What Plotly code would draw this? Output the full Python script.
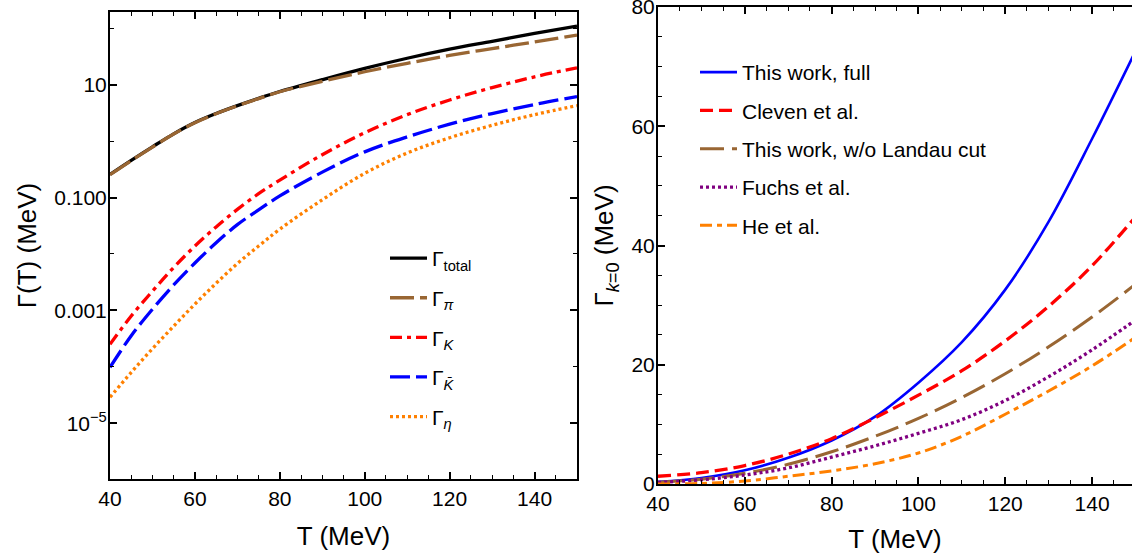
import plotly.graph_objects as go

# ---------------- data: left panel (log scale) ----------------
T_left = [40, 45, 50, 55, 60, 65, 70, 75, 80, 90, 100, 110, 120, 130, 140, 150]
gamma_total = [0.257, 0.457, 0.794, 1.35, 2.14, 3.09, 4.27, 5.75, 7.59, 12.3, 19.5, 29.5, 42.7, 58.9, 81.3, 110.0]
gamma_pi = [0.254, 0.452, 0.786, 1.34, 2.12, 3.06, 4.23, 5.69, 7.52, 11.5, 17.0, 24.0, 33.1, 43.7, 57.5, 75.9]
gamma_K = [2.51e-4, 7.94e-4, 2.19e-3, 5.75e-3, 0.0138, 0.0302, 0.0617, 0.117, 0.204, 0.575, 1.41, 2.95, 5.37, 8.91, 13.8, 20.0]
gamma_Kbar = [9.77e-5, 3.55e-4, 1.05e-3, 2.82e-3, 6.92e-3, 0.0158, 0.0331, 0.0603, 0.107, 0.282, 0.646, 1.19, 2.00, 3.09, 4.47, 6.17]
gamma_eta = [2.88e-5, 7.94e-5, 2.09e-4, 5.25e-4, 1.29e-3, 3.02e-3, 6.76e-3, 0.0138, 0.0275, 0.0912, 0.269, 0.617, 1.15, 1.91, 2.95, 4.27]

left_names = ["Γ<sub>total</sub>", "Γ<sub><i>π</i></sub>", "Γ<sub><i>K</i></sub>",
              "Γ<sub><i>K̄</i></sub>", "Γ<sub><i>η</i></sub>"]
left_tickvals = [1e-5, 1e-3, 0.1, 10]
left_ticktext = ["10<sup>−5</sup>", "0.001", "0.100", "10"]
left_minorvals = [1e-6, 1e-4, 0.01, 1, 100]

# ---------------- data: right panel (linear) ----------------
T_right = [40, 50, 60, 70, 80, 90, 100, 110, 120, 130, 140, 150]
full = [0.35, 1.0, 2.3, 4.4, 7.3, 11.3, 17.0, 23.8, 32.6, 44.0, 57.9, 72.6]
cleven = [1.3, 1.9, 3.1, 5.0, 7.6, 11.1, 14.9, 19.0, 24.0, 29.8, 36.6, 44.8]
no_landau = [0.3, 0.8, 1.8, 3.3, 5.4, 8.0, 11.0, 14.5, 18.5, 23.0, 28.0, 33.5]
fuchs = [0.25, 0.7, 1.5, 2.7, 4.5, 6.4, 8.5, 10.8, 14.0, 18.0, 22.5, 27.5]
he = [0.0, 0.1, 0.5, 1.3, 2.2, 3.4, 5.2, 8.0, 11.7, 15.6, 19.8, 24.6]

right_names = ["This work, full", "Cleven et al.", "This work, w/o Landau cut",
               "Fuchs et al.", "He et al."]
right_tickvals = [0, 20, 40, 60, 80]

FONT = "Liberation Sans, Arial, sans-serif"
BROWN = "#996633"
ORANGE = "#FF8000"
PURPLE = "#800080"

fig = go.Figure()

left_series = [gamma_total, gamma_pi, gamma_K, gamma_Kbar, gamma_eta]
left_styles = [
    dict(color="black", width=3.3, dash="solid"),
    dict(color=BROWN, width=3.3, dash="24px,6px"),
    dict(color="red", width=3.3, dash="12px,5px,4px,5px"),
    dict(color="blue", width=3.3, dash="20px,6px"),
    dict(color=ORANGE, width=3.3, dash="3px,3px"),
]
for name, ys, st in zip(left_names, left_series, left_styles):
    fig.add_trace(go.Scatter(x=T_left, y=ys, mode="lines", name=name, line=dict(shape="spline", **st),
                             xaxis="x", yaxis="y", legend="legend", legendgroup="L" + name))

right_series = [full, cleven, no_landau, fuchs, he]
right_styles = [
    dict(color="blue", width=2.6, dash="solid"),
    dict(color="red", width=3.3, dash="13px,6px"),
    dict(color=BROWN, width=3.0, dash="24px,8px"),
    dict(color=PURPLE, width=3.3, dash="3px,3px"),
    dict(color=ORANGE, width=3.0, dash="12px,5px,5px,5px"),
]
for name, ys, st in zip(right_names, right_series, right_styles):
    fig.add_trace(go.Scatter(x=T_right, y=ys, mode="lines", name=name, line=dict(shape="spline", **st),
                             xaxis="x2", yaxis="y2", legend="legend2", legendgroup="R" + name))

W, H = 1132, 554
tickfont = dict(family=FONT, size=21, color="black")
titlefont = dict(family=FONT, size=26, color="black")

common_x = dict(showgrid=False, zeroline=False, showline=True, linecolor="black", linewidth=2,
                ticks="inside", ticklen=7, tickwidth=1.5, tickcolor="black",
                tickfont=tickfont, automargin=False, ticklabeloverflow="allow",
                minor=dict(ticks="inside", ticklen=4, tickwidth=1.2, tickcolor="black", dtick=5))

fig.update_layout(
    width=W, height=H,
    margin=dict(l=0, r=0, t=0, b=0),
    paper_bgcolor="white", plot_bgcolor="white",
    showlegend=True,
    xaxis=dict(domain=[110 / W, 577 / W], range=[40, 150], dtick=20, tick0=40, mirror="allticks",
               anchor="y", title=dict(text="T (MeV)", font=titlefont, standoff=18), **common_x),
    yaxis=dict(domain=[(H - 479) / H, (H - 12) / H], type="log", range=[-5.99, 2.29],
               tickmode="array", tickvals=left_tickvals, ticktext=left_ticktext,
               showgrid=False, zeroline=False, showline=True, linecolor="black", linewidth=2,
               ticks="inside", ticklen=7, tickwidth=1.5, tickcolor="black", mirror="allticks",
               tickfont=tickfont, automargin=False, anchor="x", ticklabelstandoff=-3,
               ticklabeloverflow="allow",
               minor=dict(ticks="inside", ticklen=4, tickwidth=1.2, tickcolor="black",
                          tickmode="array", tickvals=left_minorvals),
               title=dict(text="Γ(T) (MeV)", font=titlefont, standoff=10)),
    xaxis2=dict(domain=[658 / W, 1.0], range=[40, 149.2], dtick=20, tick0=40, mirror="allticks",
                anchor="y2", title=dict(text="T (MeV)", font=titlefont, standoff=18), **common_x),
    yaxis2=dict(domain=[(H - 484) / H, (H - 7) / H], range=[0, 80.001],
                tickmode="array", tickvals=right_tickvals,
                showgrid=False, zeroline=False, showline=True, linecolor="black", linewidth=2,
                ticks="inside", ticklen=7, tickwidth=1.5, tickcolor="black", mirror=False,
                tickfont=tickfont, automargin=False, anchor="x2", ticklabelstandoff=-3,
                ticklabeloverflow="allow",
                minor=dict(ticks="inside", ticklen=4, tickwidth=1.2, tickcolor="black", dtick=5),
                title=dict(text="Γ<sub><i>k</i>=0</sub> (MeV)", font=titlefont, standoff=10)),
    legend=dict(x=385 / W, y=1 - 238 / H, xanchor="left", yanchor="top", bgcolor="rgba(0,0,0,0)",
                font=dict(family=FONT, size=21, color="black"), tracegroupgap=9.3, itemwidth=37),
    legend2=dict(x=695 / W, y=1 - 52 / H, xanchor="left", yanchor="top", bgcolor="rgba(0,0,0,0)",
                 font=dict(family=FONT, size=21, color="black"), tracegroupgap=8, itemwidth=37),
)

fig.write_html("out.html", config={"displayModeBar": False},
               post_script="document.body.style.margin='0px';")
